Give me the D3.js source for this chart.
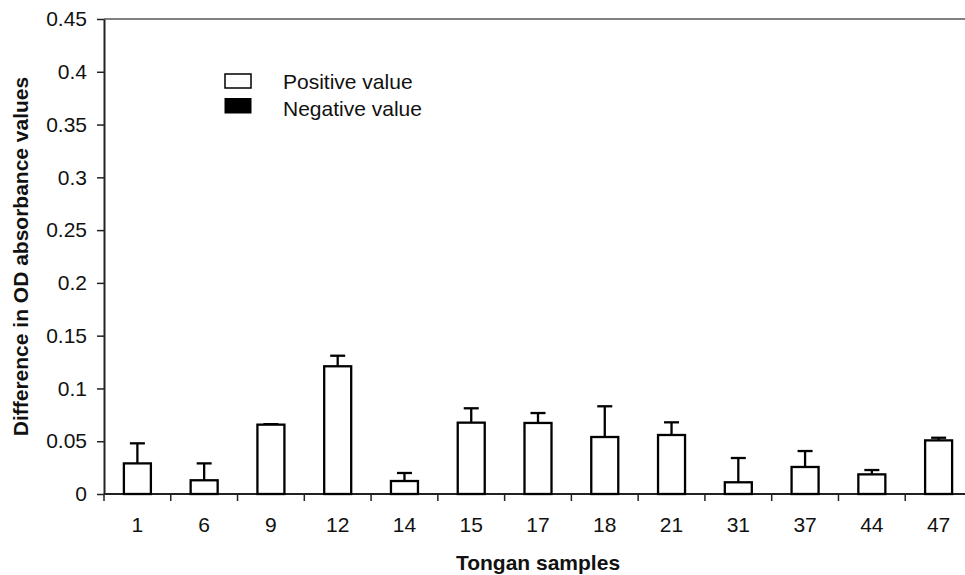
<!DOCTYPE html>
<html><head><meta charset="utf-8">
<script src="https://cdn.jsdelivr.net/npm/d3@7"></script>
<style>body{margin:0;background:#fff}text{font-family:"Liberation Sans",Arial,sans-serif}</style>
</head><body><svg id="c" width="965" height="575"></svg>
<script>
const categories = ["1","6","9","12","14","15","17","18","21","31","37","44","47"];
const values = [0.029,0.013,0.0657,0.121,0.0123,0.0676,0.0673,0.054,0.0559,0.0111,0.0256,0.0186,0.0508];
const errors = [0.019,0.016,0.0005,0.010,0.0076,0.0136,0.0094,0.0291,0.012,0.023,0.0151,0.0041,0.0025];
const yTicks = [0,0.05,0.1,0.15,0.2,0.25,0.3,0.35,0.4,0.45];
const yTickLabels = ["0","0.05","0.1","0.15","0.2","0.25","0.3","0.35","0.4","0.45"];
const legendLabels = ["Positive value","Negative value"];

const svg = d3.select("#c");
const L=104, R=972, T=19, B=494;
const x = d3.scaleBand().domain(categories).range([L,R]).paddingInner(0).paddingOuter(0);
const y = d3.scaleLinear().domain([0,0.45]).range([B,T]);

// top border line
svg.append("line").attr("x1",L).attr("x2",965).attr("y1",T).attr("y2",T).attr("stroke","#808080").attr("stroke-width",2);

// y axis
const ya = svg.append("g").attr("transform",`translate(${L},0)`)
  .call(d3.axisLeft(y).tickValues(yTicks).tickFormat((d,i)=>yTickLabels[i]).tickSize(7).tickPadding(10).tickSizeOuter(0));
ya.select(".domain").attr("stroke","#222").attr("stroke-width",2);
ya.selectAll(".tick line").attr("stroke","#222").attr("stroke-width",1.5);
ya.selectAll("text").attr("font-size",21).attr("fill","#111").attr("font-family","Liberation Sans, Arial, sans-serif");

// x axis: ticks at band boundaries
const xa = svg.append("g").attr("transform",`translate(0,${B})`);
xa.append("line").attr("x1",L).attr("x2",R).attr("stroke","#222").attr("stroke-width",2);
const bounds = categories.map(c=>x(c)).concat([R]);
xa.selectAll("line.t").data(bounds).join("line").attr("class","t")
  .attr("x1",d=>d).attr("x2",d=>d).attr("y1",0).attr("y2",7).attr("stroke","#222").attr("stroke-width",1.5);
xa.selectAll("text").data(categories).join("text")
  .attr("x",d=>x(d)+x.bandwidth()/2).attr("y",38).attr("text-anchor","middle")
  .attr("font-size",21).attr("fill","#111").text(d=>d);

// bars
const bw = 27;
const data = categories.map((c,i)=>({c,v:values[i],e:errors[i]}));
const g = svg.append("g");
data.forEach(d=>{
  const cx = x(d.c)+x.bandwidth()/2;
  g.append("line").attr("x1",cx).attr("x2",cx).attr("y1",y(d.v)).attr("y2",y(d.v+d.e)).attr("stroke","#000").attr("stroke-width",2.3);
  g.append("line").attr("x1",cx-7.5).attr("x2",cx+7.5).attr("y1",y(d.v+d.e)).attr("y2",y(d.v+d.e)).attr("stroke","#000").attr("stroke-width",2.3);
  g.append("rect").attr("x",cx-bw/2).attr("y",y(d.v)).attr("width",bw).attr("height",B-y(d.v))
    .attr("fill","#fff").attr("stroke","#000").attr("stroke-width",2.3);
});

// legend
const lg = svg.append("g");
lg.append("rect").attr("x",225).attr("y",74).attr("width",26).attr("height",14).attr("fill","#fff").attr("stroke","#000").attr("stroke-width",1.5);
lg.append("rect").attr("x",225).attr("y",98.5).attr("width",26).attr("height",14.5).attr("fill","#000").attr("stroke","#000").attr("stroke-width",1);
lg.append("text").attr("x",283).attr("y",89).attr("font-size",21).attr("fill","#111").text(legendLabels[0]);
lg.append("text").attr("x",283).attr("y",116).attr("font-size",21).attr("fill","#111").text(legendLabels[1]);

// axis titles
svg.append("text").attr("x",(L+R)/2).attr("y",570).attr("text-anchor","middle").attr("font-size",21).attr("font-weight","bold").attr("fill","#111").text("Tongan samples");
svg.append("text").attr("transform",`translate(28,${(T+B)/2}) rotate(-90)`).attr("text-anchor","middle").attr("font-size",21).attr("font-weight","bold").attr("fill","#111").text("Difference in OD absorbance values");
</script></body></html>
